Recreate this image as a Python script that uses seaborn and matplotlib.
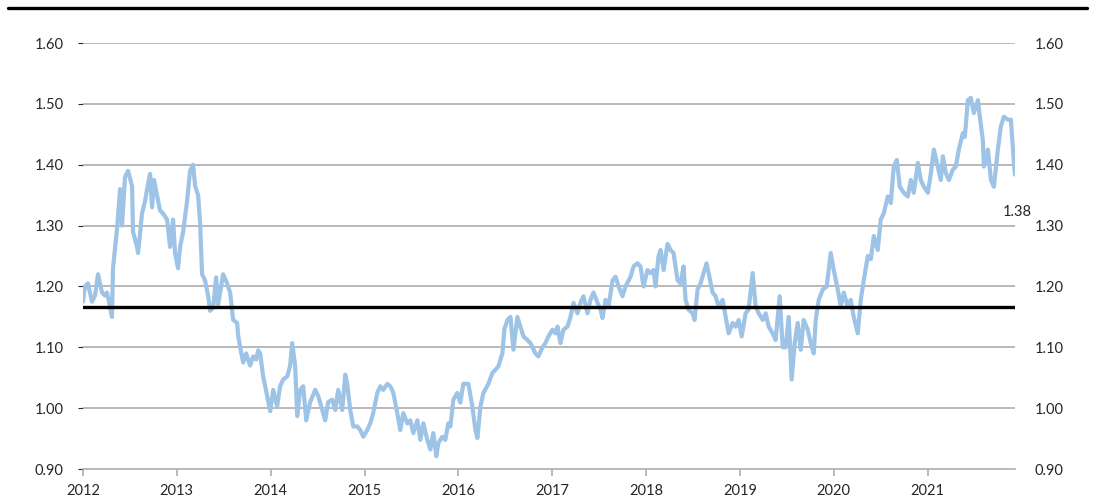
import numpy as np
import pandas as pd
import seaborn as sns
import matplotlib.pyplot as plt

# decimal year of each reading and the value
years = [
    2012.000, 2012.021, 2012.053, 2012.096, 2012.128, 2012.160, 2012.203, 2012.235, 2012.256, 2012.277,
    2012.309, 2012.320, 2012.363, 2012.395, 2012.416, 2012.448, 2012.480, 2012.523, 2012.533, 2012.576,
    2012.587, 2012.629, 2012.661, 2012.683, 2012.715, 2012.736, 2012.757, 2012.789, 2012.821, 2012.853,
    2012.896, 2012.928, 2012.960, 2012.981, 2013.013, 2013.035, 2013.067, 2013.109, 2013.141, 2013.173,
    2013.195, 2013.227, 2013.248, 2013.269, 2013.301, 2013.333, 2013.355, 2013.387, 2013.419, 2013.440,
    2013.493, 2013.536, 2013.568, 2013.600, 2013.643, 2013.653, 2013.675, 2013.707, 2013.739, 2013.781,
    2013.813, 2013.845, 2013.867, 2013.888, 2013.920, 2013.963, 2013.995, 2014.027, 2014.069, 2014.101,
    2014.133, 2014.176, 2014.208, 2014.229, 2014.261, 2014.283, 2014.315, 2014.347, 2014.379, 2014.421,
    2014.475, 2014.507, 2014.549, 2014.581, 2014.613, 2014.656, 2014.688, 2014.720, 2014.763, 2014.795,
    2014.816, 2014.848, 2014.880, 2014.923, 2014.955, 2014.987, 2015.029, 2015.061, 2015.093, 2015.136,
    2015.168, 2015.200, 2015.243, 2015.275, 2015.307, 2015.349, 2015.381, 2015.413, 2015.456, 2015.488,
    2015.520, 2015.563, 2015.595, 2015.627, 2015.669, 2015.701, 2015.733, 2015.765, 2015.787, 2015.829,
    2015.861, 2015.893, 2015.915, 2015.947, 2015.989, 2016.021, 2016.053, 2016.107, 2016.149, 2016.181,
    2016.203, 2016.235, 2016.267, 2016.320, 2016.363, 2016.395, 2016.427, 2016.469, 2016.491, 2016.523,
    2016.555, 2016.587, 2016.629, 2016.661, 2016.693, 2016.736, 2016.768, 2016.821, 2016.853, 2016.896,
    2016.928, 2016.960, 2017.003, 2017.035, 2017.056, 2017.088, 2017.120, 2017.163, 2017.195, 2017.227,
    2017.269, 2017.301, 2017.333, 2017.376, 2017.408, 2017.440, 2017.483, 2017.515, 2017.536, 2017.568,
    2017.600, 2017.643, 2017.675, 2017.707, 2017.749, 2017.781, 2017.835, 2017.867, 2017.909, 2017.941,
    2017.973, 2018.016, 2018.048, 2018.080, 2018.101, 2018.133, 2018.155, 2018.187, 2018.229, 2018.261,
    2018.293, 2018.336, 2018.368, 2018.400, 2018.421, 2018.453, 2018.496, 2018.517, 2018.549, 2018.581,
    2018.613, 2018.645, 2018.667, 2018.709, 2018.741, 2018.773, 2018.816, 2018.848, 2018.880, 2018.923,
    2018.955, 2018.987, 2019.019, 2019.061, 2019.093, 2019.136, 2019.168, 2019.200, 2019.243, 2019.275,
    2019.307, 2019.349, 2019.381, 2019.424, 2019.456, 2019.488, 2019.520, 2019.552, 2019.584, 2019.616,
    2019.648, 2019.680, 2019.723, 2019.755, 2019.787, 2019.808, 2019.840, 2019.883, 2019.925, 2019.968,
    2020.000, 2020.043, 2020.075, 2020.107, 2020.149, 2020.181, 2020.213, 2020.256, 2020.288, 2020.320,
    2020.363, 2020.395, 2020.427, 2020.469, 2020.501, 2020.533, 2020.576, 2020.608, 2020.640, 2020.672,
    2020.704, 2020.747, 2020.789, 2020.821, 2020.853, 2020.896, 2020.928, 2020.960, 2021.003, 2021.035,
    2021.067, 2021.109, 2021.141, 2021.163, 2021.195, 2021.227, 2021.269, 2021.301, 2021.333, 2021.376,
    2021.397, 2021.429, 2021.461, 2021.493, 2021.536, 2021.557, 2021.589, 2021.600, 2021.643, 2021.675,
    2021.707, 2021.749, 2021.781, 2021.813, 2021.856, 2021.888, 2021.920, 2021.931,
]
values = [
    1.175, 1.200, 1.205, 1.175, 1.185, 1.220, 1.190, 1.185, 1.190, 1.175,
    1.150, 1.230, 1.295, 1.360, 1.300, 1.380, 1.390, 1.365, 1.290, 1.265,
    1.255, 1.320, 1.340, 1.360, 1.385, 1.330, 1.375, 1.350, 1.325, 1.320,
    1.310, 1.265, 1.310, 1.255, 1.230, 1.265, 1.290, 1.340, 1.390, 1.400,
    1.365, 1.350, 1.305, 1.220, 1.210, 1.185, 1.160, 1.165, 1.215, 1.170,
    1.220, 1.205, 1.190, 1.145, 1.140, 1.120, 1.100, 1.075, 1.090, 1.070,
    1.085, 1.080, 1.095, 1.090, 1.052, 1.020, 0.995, 1.030, 1.003, 1.036,
    1.047, 1.052, 1.070, 1.107, 1.070, 0.987, 1.030, 1.036, 0.980, 1.010,
    1.030, 1.020, 0.997, 0.980, 1.010, 1.014, 0.997, 1.030, 0.997, 1.055,
    1.040, 0.997, 0.970, 0.970, 0.964, 0.953, 0.964, 0.975, 0.992, 1.025,
    1.036, 1.030, 1.040, 1.036, 1.025, 0.992, 0.964, 0.992, 0.975, 0.980,
    0.959, 0.980, 0.948, 0.975, 0.948, 0.932, 0.959, 0.921, 0.943, 0.953,
    0.948, 0.975, 0.970, 1.014, 1.025, 1.009, 1.040, 1.040, 1.003, 0.965,
    0.951, 1.003, 1.025, 1.040, 1.058, 1.063, 1.069, 1.090, 1.130, 1.145,
    1.150, 1.096, 1.150, 1.134, 1.118, 1.112, 1.107, 1.090, 1.085, 1.100,
    1.107, 1.118, 1.129, 1.123, 1.134, 1.107, 1.129, 1.134, 1.150, 1.173,
    1.156, 1.173, 1.184, 1.156, 1.178, 1.190, 1.173, 1.162, 1.148, 1.178,
    1.167, 1.210, 1.216, 1.200, 1.184, 1.200, 1.216, 1.233, 1.238, 1.233,
    1.200, 1.227, 1.222, 1.227, 1.200, 1.250, 1.260, 1.227, 1.270, 1.260,
    1.255, 1.210, 1.205, 1.233, 1.178, 1.162, 1.156, 1.145, 1.195, 1.205,
    1.222, 1.238, 1.222, 1.190, 1.184, 1.167, 1.178, 1.150, 1.123, 1.140,
    1.134, 1.145, 1.118, 1.156, 1.162, 1.222, 1.167, 1.156, 1.145, 1.156,
    1.134, 1.123, 1.112, 1.184, 1.100, 1.100, 1.150, 1.047, 1.107, 1.140,
    1.096, 1.145, 1.129, 1.107, 1.090, 1.145, 1.178, 1.195, 1.200, 1.255,
    1.227, 1.195, 1.167, 1.190, 1.167, 1.178, 1.150, 1.123, 1.178, 1.210,
    1.250, 1.245, 1.283, 1.260, 1.310, 1.320, 1.348, 1.337, 1.397, 1.408,
    1.364, 1.354, 1.348, 1.375, 1.354, 1.403, 1.375, 1.364, 1.354, 1.386,
    1.425, 1.397, 1.375, 1.414, 1.386, 1.375, 1.392, 1.397, 1.425, 1.452,
    1.446, 1.506, 1.510, 1.485, 1.506, 1.479, 1.440, 1.397, 1.425, 1.375,
    1.364, 1.425, 1.463, 1.479, 1.474, 1.474, 1.403, 1.384,
]
mean_level = 1.167
year_ticks = list(range(2012, 2022))
y_ticks = [0.90, 1.00, 1.10, 1.20, 1.30, 1.40, 1.50, 1.60]

df = pd.DataFrame({"year": years, "value": values})

sns.set_style("white")
plt.rcParams['font.family'] = ['Lato', 'DejaVu Sans']

fig = plt.figure(figsize=(11.02, 4.97), dpi=100)
ax = fig.add_axes([0.0753, 0.0563, 0.8457, 0.857])

grid_c = '#b3b3b3'
for v in y_ticks[1:]:
    ax.axhline(v, color=grid_c, lw=1.3, zorder=1)

sns.lineplot(data=df, x="year", y="value", ax=ax, color='#9dc3e6', lw=3.0, zorder=3)
ax.axhline(mean_level, color='black', lw=2.4, zorder=4)

ax.set_xlim(years[0], years[-1])
ax.set_ylim(0.90, 1.60)
ax.set_xticks(year_ticks)
ax.set_xticklabels([str(y) for y in year_ticks], fontsize=10.5)
ax.set_yticks(y_ticks)
ax.set_yticklabels([f"{v:.2f}" for v in y_ticks], fontsize=10.5)
ax.set_xlabel("")
ax.set_ylabel("")
for s in ['top', 'right', 'left']:
    ax.spines[s].set_visible(False)
ax.spines['bottom'].set_color(grid_c)
ax.spines['bottom'].set_linewidth(1.3)
ax.tick_params(axis='x', bottom=True, length=5, width=1.3, color=grid_c, pad=6)
ax.tick_params(axis='y', left=False, pad=10.5)

ax2 = ax.twinx()
ax2.set_ylim(ax.get_ylim())
ax2.set_yticks(y_ticks)
ax2.set_yticklabels([f"{v:.2f}" for v in y_ticks], fontsize=10.5)
ax2.tick_params(axis='y', right=False, pad=10.5)
for s in ax2.spines.values():
    s.set_visible(False)

ax.annotate(f"{values[-1]:.2f}", xy=(years[-1], values[-1]), xytext=(2, -27),
            textcoords='offset points', ha='center', va='center', fontsize=10.5,
            annotation_clip=False)

# heavy rule under the (cropped) title
fig.add_artist(plt.Line2D([0.007, 0.986], [0.984, 0.984], color='black', lw=2.4,
                          transform=fig.transFigure))

fig.savefig("out.png", dpi=100)
